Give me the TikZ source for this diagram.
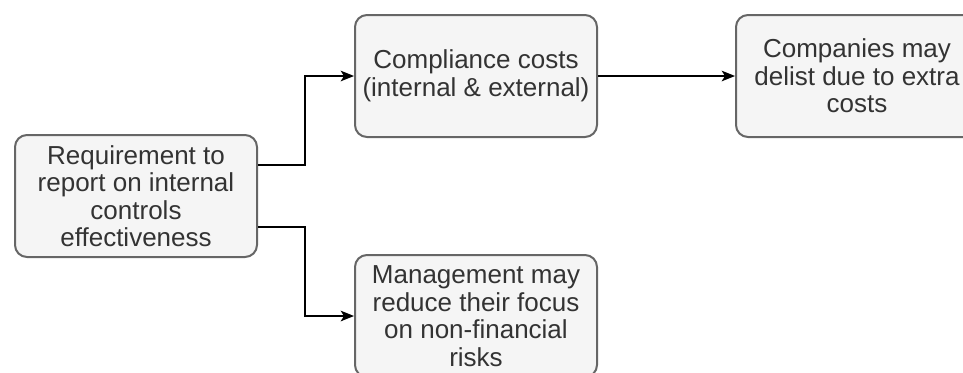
\documentclass[tikz,border=0pt]{standalone}
\usepackage{fontspec}
\setmainfont{Liberation Sans}
\usetikzlibrary{arrows.meta,calc}
\definecolor{boxfill}{HTML}{F5F5F5}
\definecolor{boxline}{HTML}{666666}
\definecolor{boxtext}{HTML}{333333}
\begin{document}
\begin{tikzpicture}[x=0.75pt,y=-0.75pt,
  box/.style={draw=boxline,line width=1.5pt,fill=boxfill,rounded corners=9pt,
    minimum width=181.5pt,minimum height=91.5pt,align=center,text=boxtext,
    inner sep=0pt,font=\fontsize{19.5}{20.6}\selectfont},
  conn/.style={draw=black,line width=1.1pt,-{Stealth[length=10pt,width=8pt,inset=2.5pt]}}]
\useasboundingbox (0,0) rectangle (963,372);
\clip (0,0) rectangle (963,372);

\node[box] (req)  at (136,196) {Requirement to\\report on internal\\controls\\effectiveness};
\node[box] (comp) at (476,76)  {Compliance costs\\(internal \& external)};
\node[box] (del)  at (857,76)  {Companies may\\delist due to extra\\costs};
\node[box] (mgmt) at (476,316) {Management may\\reduce their focus\\on non-financial\\risks};

\coordinate (bend) at (305,0);
\coordinate (upper) at ($(req.north east)!0.25!(req.south east)$);
\coordinate (lower) at ($(req.north east)!0.75!(req.south east)$);

\draw[conn] (upper) -- (upper -| bend) |- (comp.west);
\draw[conn] (lower) -- (lower -| bend) |- (mgmt.west);
\draw[conn] (comp.east) -- (del.west);
\end{tikzpicture}
\end{document}
